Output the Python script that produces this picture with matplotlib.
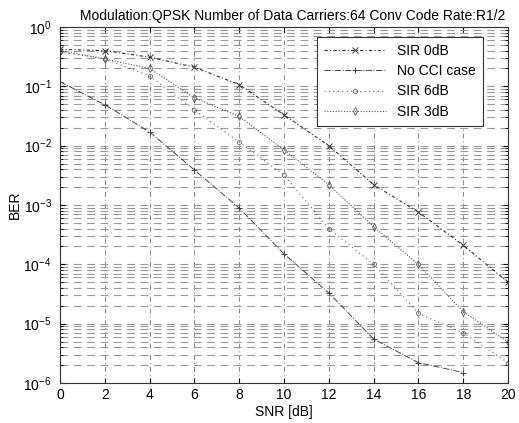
import numpy as np
import matplotlib
matplotlib.use('Agg')
from matplotlib import pyplot as plt

plt.rcParams['font.family'] = ['Liberation Sans', 'DejaVu Sans']

# Data
snr = [0, 2, 4, 6, 8, 10, 12, 14, 16, 18, 20]
snr_nocci = [0, 2, 4, 6, 8, 10, 12, 14, 16, 18]
ber_sir0 = [0.42, 0.40, 0.31, 0.21, 0.107, 0.033, 0.01, 2.2e-3, 7.6e-4, 2.1e-4, 5e-5]
ber_nocci = [0.12, 0.049, 0.017, 3.9e-3, 8.9e-4, 1.5e-4, 3.3e-5, 5.5e-6, 2.2e-6, 1.5e-6]
ber_sir6 = [0.38, 0.29, 0.15, 0.04, 0.0115, 3.2e-3, 4e-4, 1e-4, 1.5e-5, 7e-6, 2.2e-6]
ber_sir3 = [0.40, 0.29, 0.20, 0.064, 0.031, 8.5e-3, 2.2e-3, 4.3e-4, 1e-4, 1.6e-5, 4.9e-6]

fig = plt.figure(figsize=(5.19, 4.23), dpi=100)
ax = fig.add_axes([0.1156, 0.0946, 0.8632, 0.8416])

ax.semilogy(snr, ber_sir0, color='#333333', linestyle=(0, (3, 2, 1, 2)), linewidth=0.8,
            marker='x', markersize=4, markeredgewidth=0.7, label='SIR 0dB')
ax.semilogy(snr_nocci, ber_nocci, color='#444444', linestyle='-.', linewidth=0.7,
            marker='+', markersize=4, markeredgewidth=0.7, label='No CCI case')
ax.semilogy(snr, ber_sir6, color='#666666', linestyle=(0, (1, 3)), linewidth=0.8,
            marker='o', markersize=3, markerfacecolor='none', markeredgewidth=0.6, label='SIR 6dB')
ax.semilogy(snr, ber_sir3, color='#555555', linestyle=(0, (1, 1.5)), linewidth=0.8,
            marker='d', markersize=4, markerfacecolor='none', markeredgewidth=0.6, label='SIR 3dB')

ax.set_xlim(0, 20)
ax.set_ylim(1e-6, 1)
ax.set_xticks(np.arange(0, 21, 2))
ax.set_yticks([1e-6, 1e-5, 1e-4, 1e-3, 1e-2, 1e-1, 1])

ax.grid(True, which='major', axis='x', color='#888888', linestyle=(0, (5, 3, 1, 3)), linewidth=0.7)
ax.grid(True, which='both', axis='y', color='#999999', linestyle=(0, (7, 5)), linewidth=0.8)

ax.tick_params(which='both', direction='in', labelsize=10, top=True, right=True)
ax.tick_params(which='minor', length=2)
ax.tick_params(axis='y', pad=6)
for sp in ax.spines.values():
    sp.set_linewidth(0.8)
    sp.set_color('#333333')

ax.set_title('Modulation:QPSK Number of Data Carriers:64 Conv Code Rate:R1/2', fontsize=10,
             pad=5, x=0.52)
ax.set_xlabel('SNR [dB]', fontsize=10, labelpad=2)
ax.set_ylabel('BER', fontsize=10, labelpad=1)

leg = ax.legend(loc='upper right', bbox_to_anchor=(0.944, 0.972), borderaxespad=0, fontsize=10,
                handlelength=4.5, fancybox=False, framealpha=1, borderpad=0.5,
                labelspacing=0.45)
leg.get_frame().set_edgecolor('#333333')
leg.get_frame().set_linewidth(0.8)

fig.savefig('out.png', dpi=100)
